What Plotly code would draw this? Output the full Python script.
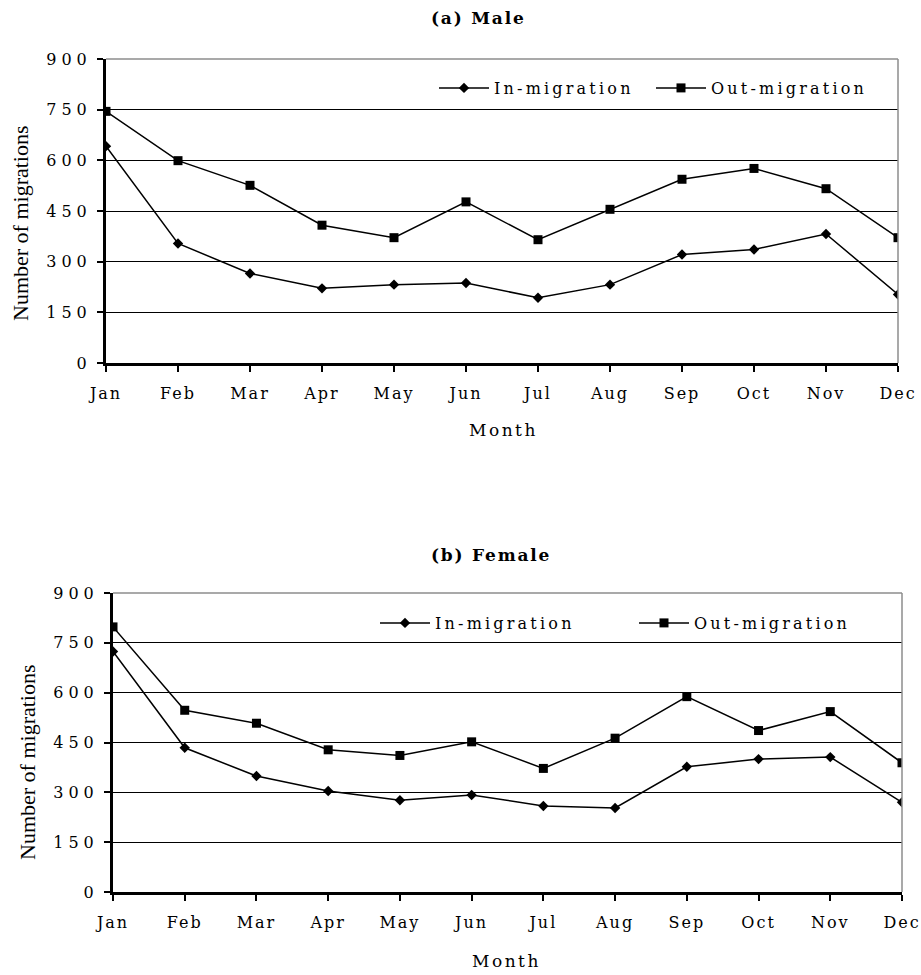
import plotly.graph_objects as go

months = ["Jan", "Feb", "Mar", "Apr", "May", "Jun", "Jul", "Aug", "Sep", "Oct", "Nov", "Dec"]
male_in = [642, 354, 265, 221, 232, 237, 193, 232, 321, 336, 382, 203]
male_out = [745, 599, 526, 408, 371, 477, 365, 455, 544, 576, 516, 371]
female_in = [724, 434, 349, 304, 276, 292, 259, 253, 377, 400, 406, 270]
female_out = [798, 547, 508, 428, 411, 452, 372, 463, 588, 486, 543, 389]
y_ticks = [0, 150, 300, 450, 600, 750, 900]
y_ticklabels = ["0", "150", "300", "450", "600", "750", "900"]
series_names = ["In-migration", "Out-migration"]
panel_titles = ["(a) Male", "(b) Female"]

W, H = 921, 975


def sp(t, px):
    return f'<span style="letter-spacing:{px}px">{t}</span>'


def px_x(p):
    return p / W


def px_y(p):
    return 1 - p / H


fig = go.Figure()

panels = [
    dict(xa="x", ya="y", vin=male_in, vout=male_out, legend="legend",
         xd=[106, 898], yd=[59, 363]),
    dict(xa="x2", ya="y2", vin=female_in, vout=female_out, legend="legend2",
         xd=[113, 902], yd=[593, 892]),
]

for i, p in enumerate(panels):
    fig.add_trace(go.Scatter(
        x=months, y=p["vin"], name=sp(series_names[0], 3.2), mode="lines+markers",
        line=dict(color="black", width=1.5),
        marker=dict(symbol="diamond", size=8, color="black"),
        xaxis=p["xa"], yaxis=p["ya"], legend=p["legend"]))
    fig.add_trace(go.Scatter(
        x=months, y=p["vout"], name=sp(series_names[1], 3.2), mode="lines+markers",
        line=dict(color="black", width=1.5),
        marker=dict(symbol="square", size=9, color="black"),
        xaxis=p["xa"], yaxis=p["ya"], legend=p["legend"]))

tickfont = dict(family="DejaVu Serif", size=16, color="black")
for i, p in enumerate(panels):
    sfx = "" if i == 0 else str(i + 1)
    fig.layout["xaxis" + sfx] = dict(
        domain=[px_x(p["xd"][0]), px_x(p["xd"][1])],
        anchor="y" + sfx, range=[0, 11], type="category", automargin=False,
        tickmode="array", tickvals=months, ticktext=[sp(m, 2) for m in months],
        showline=True, linecolor="black", linewidth=3,
        ticks="outside", ticklen=6, tickwidth=2, tickcolor="black",
        ticklabelstandoff=8,
        showgrid=False, zeroline=False, tickfont=tickfont, fixedrange=True)
    fig.layout["yaxis" + sfx] = dict(
        domain=[px_y(p["yd"][1]), px_y(p["yd"][0])],
        anchor="x" + sfx, range=[0, 900], automargin=False,
        tickmode="array", tickvals=y_ticks, ticktext=[sp(t, 5) for t in y_ticklabels],
        showline=True, linecolor="black", linewidth=3,
        ticks="outside", ticklen=6, tickwidth=2, tickcolor="black",
        ticklabelstandoff=2,
        showgrid=True, gridcolor="black", gridwidth=1,
        zeroline=False, tickfont=tickfont, fixedrange=True)
    # gray top and right border
    fig.add_shape(type="line", xref="paper", yref="paper",
                  x0=px_x(p["xd"][0]), x1=px_x(p["xd"][1]),
                  y0=px_y(p["yd"][0]), y1=px_y(p["yd"][0]),
                  line=dict(color="#8c8c8c", width=1.5), layer="above")
    fig.add_shape(type="line", xref="paper", yref="paper",
                  x0=px_x(p["xd"][1]), x1=px_x(p["xd"][1]),
                  y0=px_y(p["yd"][0]), y1=px_y(p["yd"][1]),
                  line=dict(color="#8c8c8c", width=1.5), layer="above")

# white legend backdrop in the lower panel (covers gridline)
fig.add_shape(type="rect", xref="paper", yref="paper",
              x0=px_x(348), x1=px_x(883), y0=px_y(604), y1=px_y(650),
              fillcolor="white", line=dict(width=0), layer="between")

legfont = dict(family="DejaVu Serif", size=16, color="black")
fig.update_layout(
    legend=dict(orientation="h", x=px_x(434), y=px_y(71), xanchor="left", yanchor="top",
                font=legfont, bgcolor="rgba(0,0,0,0)", entrywidth=152, itemwidth=50,
                traceorder="normal"),
    legend2=dict(orientation="h", x=px_x(375), y=px_y(606), xanchor="left", yanchor="top",
                 font=legfont, bgcolor="rgba(0,0,0,0)", entrywidth=194, itemwidth=50,
                 traceorder="normal"),
)

ann = []
for t, xc, yc in [(panel_titles[0], 478, 18), (panel_titles[1], 491, 555)]:
    ann.append(dict(text="<b>" + sp(t, 1.8) + "</b>", x=px_x(xc), y=px_y(yc),
                    xref="paper", yref="paper", showarrow=False, xanchor="center", yanchor="middle",
                    font=dict(family="DejaVu Serif", size=17, color="black")))
for yc, xc in [(223, 20), (762, 27)]:
    ann.append(dict(text="Number of migrations", x=px_x(xc), y=px_y(yc), xref="paper", yref="paper",
                    showarrow=False, textangle=-90, xanchor="center", yanchor="middle",
                    font=dict(family="Liberation Serif", size=22, color="black")))
for xc, yc in [(503, 430), (506, 961)]:
    ann.append(dict(text=sp("Month", 2.5), x=px_x(xc), y=px_y(yc), xref="paper",
                    yref="paper", showarrow=False, xanchor="center", yanchor="middle",
                    font=dict(family="DejaVu Serif", size=17, color="black")))

fig.update_layout(
    annotations=ann,
    width=W, height=H, autosize=False,
    margin=dict(l=0, r=0, t=0, b=0),
    paper_bgcolor="white", plot_bgcolor="white",
    showlegend=True,
)

fig.write_html("out.html", config={"displayModeBar": False},
               post_script="document.body.style.margin='0';document.body.style.overflow='hidden';")
